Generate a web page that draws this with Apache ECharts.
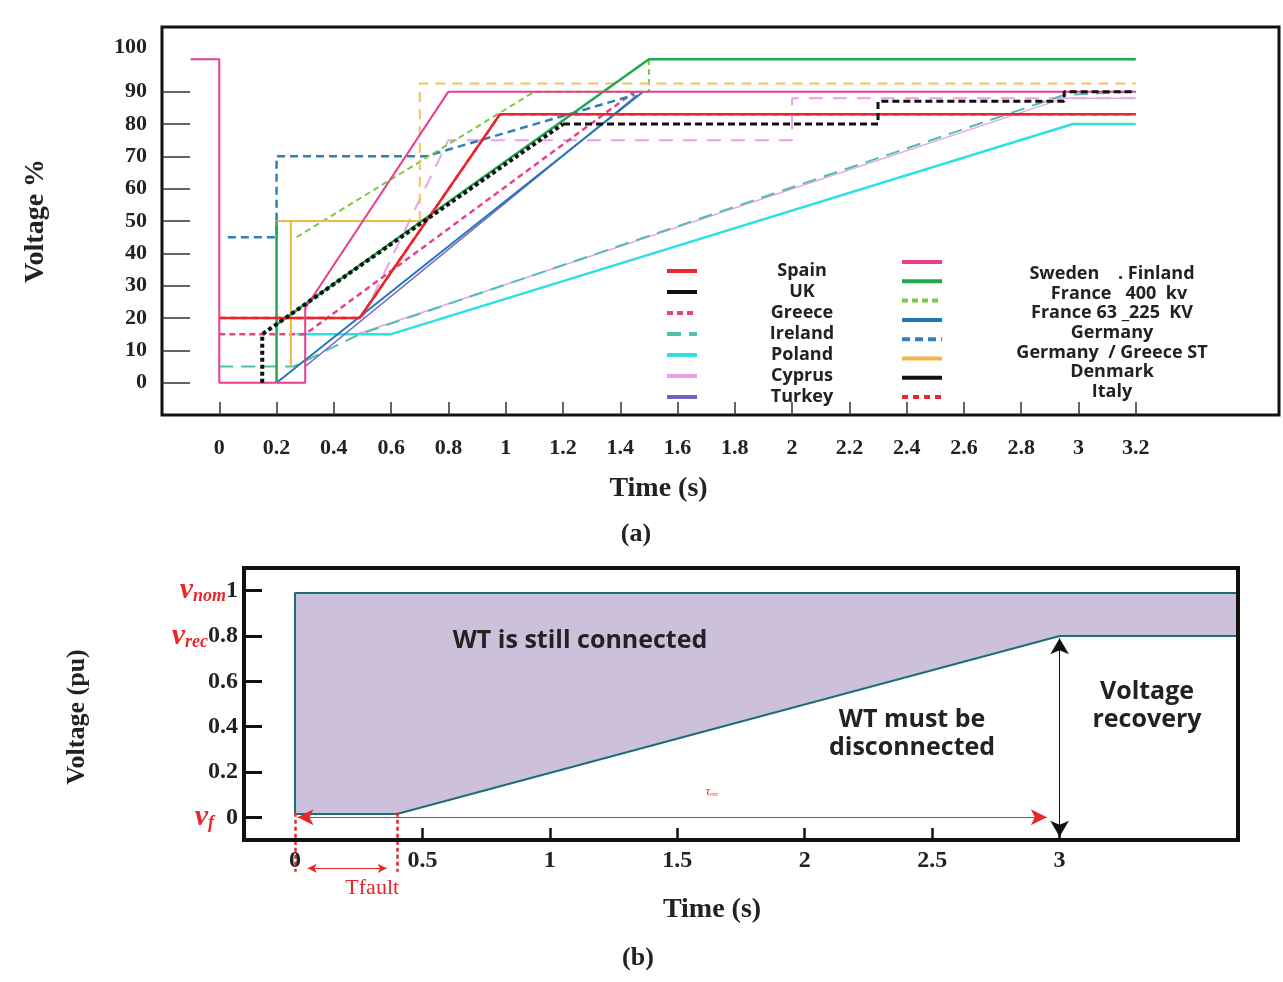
<!DOCTYPE html>
<html lang="en" style="height: 100%">
<head>
    <meta charset="utf-8">
    <title>FRT voltage profiles</title>
    <script src="https://cdn.jsdelivr.net/npm/echarts@6.0.0/dist/echarts.min.js"></script>
</head>
<body style="height: 100%; margin: 0; background: #fff">
<div id="container" style="width: 1283px; height: 982px"></div>
<script>
    // ---- (a) grid code curves, time in s, voltage in %
    const pinkT = [-0.1, 0, 0, 0.3, 0.3, 0.8, 3.2];
    const pinkV = [100, 100, 0, 0, 23, 90, 90];
    const spainT = [0, 0.49, 0.98, 3.2];
    const spainV = [20, 20, 83, 83];
    const italyT = [0, 0.49, 0.98, 3.2];
    const italyV = [20, 20, 83, 83];
    const swedenT = [0.2, 0.2, 0.2, 1.5, 3.2];
    const swedenV = [50, 0, 18, 100, 100];
    const france400T = [0.27, 1.1, 1.5, 1.5];
    const france400V = [45, 90, 90, 100];
    const france63T = [0.2, 1.48];
    const france63V = [0, 90];
    const germanyT = [0.03, 0.2, 0.2, 0.72, 1.45];
    const germanyV = [45, 45, 70, 70, 89];
    const stT = [0.25, 0.25, 0.2, 0.7];
    const stV = [5, 50, 50, 50];
    const stHighT = [0.7, 0.7, 3.2];
    const stHighV = [50, 92.5, 92.5];
    const ukT = [0.15, 0.15, 1.2];
    const ukV = [0, 15, 80];
    const denmarkT = [1.2, 2.3, 2.3, 2.95, 2.95, 3.2];
    const denmarkV = [80, 80, 87, 87, 90, 90];
    const greeceT = [0, 0.3, 1.45];
    const greeceV = [15, 15, 90];
    const turkeyT = [0.3, 1.46];
    const turkeyV = [5, 89];
    const irelandT = [0, 0.26, 0.49, 2.95, 3.2];
    const irelandV = [5, 5, 15, 89, 90];
    const polandT = [0.27, 0.6, 2.98, 3.2];
    const polandV = [15, 15, 80, 80];
    const cyprusT = [0.48, 2.95, 3.2];
    const cyprusV = [15, 88, 88];
    const cyprusStepT = [0.5, 0.8, 2.0, 2.0, 3.2];
    const cyprusStepV = [20, 75, 75, 88, 88];

    const timeTicksA = [0, 0.2, 0.4, 0.6, 0.8, 1, 1.2, 1.4, 1.6, 1.8, 2, 2.2, 2.4, 2.6, 2.8, 3, 3.2];
    const voltLabelsA = [0, 10, 20, 30, 40, 50, 60, 70, 80, 90, 100];
    const voltTicksA = [0, 10, 20, 30, 40, 50, 60, 70, 80, 90];

    const leftNames = ['Spain', 'UK', 'Greece', 'Ireland', 'Poland', 'Cyprus', 'Turkey'];
    const rightNames = ['Envelope', 'Sweden . Finland', 'France 400 kv', 'France 63_225 KV', 'Germany',
        'Germany / Greece ST', 'Denmark', 'Italy'];
    const rightLabels = ['Sweden    . Finland', '   France   400  kv', 'France 63 _225  KV', 'Germany',
        'Germany  / Greece ST', 'Denmark', 'Italy'];

    // ---- (b) generic FRT profile, voltage in pu
    const upperT = [0, 0, 3.7];
    const upperV = [0.015, 0.99, 0.99];
    const lowerT = [0, 0.4, 3.0, 3.7];
    const lowerV = [0.015, 0.015, 0.8, 0.8];
    const timeTicksB = [0.5, 1, 1.5, 2, 2.5, 3];
    const timeLabelsB = [0, 0.5, 1, 1.5, 2, 2.5, 3];
    const puTicks = [0, 0.2, 0.4, 0.6, 0.8, 1];

    // annotation arrows of (b): [t0, v0, t1, v1]
    const recArrow = [0.01, 0, 2.95, 0];
    const faultStart = [0, 0.02, 0, -0.24];
    const faultEnd = [0.4, 0.02, 0.4, -0.24];
    const faultArrow = [0.05, -0.225, 0.36, -0.225];
    const recoveryArrow = [3.0, 0.79, 3.0, -0.085];

    const RED = '#e8262b';
    const SERIF = 'Liberation Serif';
    const SANS = 'Open Sans';

    function zip(t, v) {
        return t.map(function (x, i) { return [x, v[i]]; });
    }

    function curve(name, t, v, color, width, type, z) {
        return {
            name: name,
            type: 'line',
            xAxisIndex: 0,
            yAxisIndex: 0,
            data: zip(t, v),
            showSymbol: false,
            symbol: 'none',
            animation: false,
            z: z || 2,
            lineStyle: {color: color, width: width, type: type || 'solid'},
            itemStyle: {color: color}
        };
    }

    function arrow(seg, symbol, size, lineStyle, label, color) {
        var start = {coord: [seg[0], seg[1]], symbol: symbol, symbolSize: size, lineStyle: lineStyle,
            label: label || {show: false}};
        var end = {coord: [seg[2], seg[3]], symbol: symbol, symbolSize: size};
        if (color) {
            start.itemStyle = {color: color};
            end.itemStyle = {color: color};
        }
        return [start, end];
    }

    var dom = document.getElementById('container');
    var myChart = echarts.init(dom, null, {renderer: 'canvas'});

    var option = {
        backgroundColor: '#fff',
        animation: false,
        title: [
            {
                text: rightLabels.join('\n'),
                left: 1112, top: 264, padding: 0, textAlign: 'center',
                textStyle: {fontFamily: SANS, fontWeight: 'bold', fontSize: 18, lineHeight: 19.7, color: '#222'}
            },
            {
                text: '(a)', left: 636, top: 521, padding: 0, textAlign: 'center',
                textStyle: {fontFamily: SERIF, fontWeight: 'bold', fontSize: 26, color: '#222'}
            },
            {
                text: '(b)', left: 638, top: 945, padding: 0, textAlign: 'center',
                textStyle: {fontFamily: SERIF, fontWeight: 'bold', fontSize: 26, color: '#222'}
            }
        ],
        legend: [
            {
                orient: 'vertical', left: 665, top: 262, padding: 0,
                itemWidth: 30, itemHeight: 10, itemGap: 3,
                selectedMode: false,
                data: leftNames.map(function (n) {
                    return n === 'UK' ? {name: n, lineStyle: {type: 'solid'}} : n;
                }),
                lineStyle: {width: 4},
                itemStyle: {opacity: 0},
                formatter: function (n) { return '{s|}{a|' + n + '}'; },
                textStyle: {
                    rich: {
                        s: {width: 45},
                        a: {width: 110, align: 'center', fontFamily: SANS, fontWeight: 'bold',
                            fontSize: 18, lineHeight: 20, color: '#222'}
                    }
                }
            },
            {
                orient: 'vertical', left: 900, top: 255, padding: 0,
                itemWidth: 40, itemHeight: 14, itemGap: 6.7,
                selectedMode: false,
                data: rightNames.map(function (n) {
                    return n === 'Denmark' ? {name: n, lineStyle: {type: 'solid'}} : n;
                }),
                lineStyle: {width: 4},
                itemStyle: {opacity: 0},
                formatter: function () { return ''; }
            }
        ],
        grid: [
            {left: 162, top: 27, width: 1117, height: 388, show: true, borderColor: '#111', borderWidth: 3},
            {left: 244, top: 568, width: 994, height: 272, show: true, borderColor: '#111', borderWidth: 4, z: 6},
            // same scale as grid 1, taller, for the annotation arrows below the axis
            {left: 244, top: 568, width: 994, height: 332.1, show: false}
        ],
        xAxis: [
            {
                type: 'value', gridIndex: 0, min: -0.2, max: 3.7,
                name: 'Time (s)', nameLocation: 'middle', nameGap: 60,
                nameTextStyle: {fontFamily: SERIF, fontWeight: 'bold', fontSize: 28, color: '#222', padding: [0, 124, 0, 0]},
                axisLine: {show: false, onZero: false},
                splitLine: {show: false},
                axisTick: {show: true, inside: true, length: 13, customValues: timeTicksA,
                    lineStyle: {color: '#333', width: 1.5}},
                axisLabel: {
                    customValues: timeTicksA, margin: 22,
                    fontFamily: SERIF, fontWeight: 'bold', fontSize: 22, color: '#222',
                    formatter: function (v) { return String(+v.toFixed(1)); }
                }
            },
            {
                type: 'value', gridIndex: 1, min: -0.2, max: 3.7, z: 6,
                name: 'Time (s)', nameLocation: 'middle', nameGap: 56,
                nameTextStyle: {fontFamily: SERIF, fontWeight: 'bold', fontSize: 28, color: '#222', padding: [0, 58, 0, 0]},
                axisLine: {show: false, onZero: false},
                splitLine: {show: false},
                axisTick: {show: true, inside: true, length: 12, customValues: timeTicksB,
                    lineStyle: {color: '#111', width: 2.5}},
                axisLabel: {
                    customValues: timeLabelsB, margin: 9,
                    fontFamily: SERIF, fontWeight: 'bold', fontSize: 24, color: '#222',
                    formatter: function (v) { return String(v); }
                }
            },
            {type: 'value', gridIndex: 2, min: -0.2, max: 3.7, show: false}
        ],
        yAxis: [
            {
                type: 'value', gridIndex: 0, min: -10, max: 110,
                name: 'Voltage %', nameLocation: 'middle', nameGap: 112, nameRotate: 90,
                nameTextStyle: {fontFamily: SERIF, fontWeight: 'bold', fontSize: 28, color: '#222'},
                axisLine: {show: false, onZero: false},
                splitLine: {show: false},
                axisTick: {show: true, inside: true, length: 28, customValues: voltTicksA,
                    lineStyle: {color: '#333', width: 1.5}},
                axisLabel: {
                    customValues: voltLabelsA, margin: 15,
                    fontFamily: SERIF, fontWeight: 'bold', fontSize: 22, color: '#222',
                    formatter: function (v) { return v === 100 ? '{up|100}' : String(v); },
                    rich: {
                        up: {padding: [0, 0, 24, 0], fontFamily: SERIF, fontWeight: 'bold', fontSize: 22, color: '#222'}
                    }
                }
            },
            {
                type: 'value', gridIndex: 1, min: -0.1, max: 1.1, z: 6,
                name: 'Voltage (pu)', nameLocation: 'middle', nameGap: 154, nameRotate: 90,
                nameTextStyle: {fontFamily: SERIF, fontWeight: 'bold', fontSize: 26, color: '#222', padding: [0, 26, 0, 0]},
                axisLine: {show: false, onZero: false},
                splitLine: {show: false},
                axisTick: {show: true, inside: true, length: 18, customValues: puTicks,
                    lineStyle: {color: '#111', width: 3}},
                axisLabel: {
                    customValues: puTicks, margin: 6,
                    fontFamily: SERIF, fontWeight: 'bold', fontSize: 24, color: '#222',
                    formatter: function (v) {
                        if (v === 1) return '{v|v}{s|nom}{n|1}';
                        if (v === 0.8) return '{v|v}{s|rec}{n|0.8}';
                        if (v === 0) return '{v|v}{s|f}  {n|0}';
                        return '{n|' + v + '}';
                    },
                    rich: {
                        v: {fontFamily: SERIF, fontStyle: 'italic', fontWeight: 'bold', fontSize: 30, color: RED, verticalAlign: 'top'},
                        s: {fontFamily: SERIF, fontStyle: 'italic', fontWeight: 'bold', fontSize: 18, color: RED, verticalAlign: 'bottom'},
                        n: {fontFamily: SERIF, fontWeight: 'bold', fontSize: 24, color: '#222'}
                    }
                }
            },
            {type: 'value', gridIndex: 2, min: -0.365, max: 1.1, show: false}
        ],
        graphic: [
            {type: 'text', x: 580, y: 641, z: 10,
                style: {text: 'WT is still connected', font: 'bold 25px "Open Sans"', fill: '#222', align: 'center', verticalAlign: 'middle'}},
            {type: 'text', x: 912, y: 734, z: 10,
                style: {text: 'WT must be\ndisconnected', font: 'bold 25px "Open Sans"', lineHeight: 28, fill: '#222', align: 'center', verticalAlign: 'middle'}},
            {type: 'text', x: 1147, y: 706, z: 10,
                style: {text: 'Voltage\nrecovery', font: 'bold 25px "Open Sans"', lineHeight: 28, fill: '#222', align: 'center', verticalAlign: 'middle'}}
        ],
        series: [
            curve('Italy', italyT, italyV, RED, 2.5, [6, 5], 1),
            curve('Cyprus', cyprusT, cyprusV, '#e8a2e8', 1.5),
            curve('Cyprus', cyprusStepT, cyprusStepV, '#e8a2e8', 2, [14, 10]),
            curve('Ireland', irelandT, irelandV, '#4fbfb2', 2, [14, 8]),
            curve('Poland', polandT, polandV, '#2ee0e0', 2.5),
            curve('Turkey', turkeyT, turkeyV, '#7462c2', 1.5),
            curve('France 63_225 KV', france63T, france63V, '#2277b8', 2),
            curve('Greece', greeceT, greeceV, '#e8418a', 2.5, [6, 4]),
            curve('Germany', germanyT, germanyV, '#2f80b6', 2.5, [8, 5]),
            curve('France 400 kv', france400T, france400V, '#7cc844', 2, [6, 4]),
            curve('Germany / Greece ST', stT, stV, '#f3b844', 2),
            curve('Germany / Greece ST', stHighT, stHighV, '#f3c060', 2, [10, 7]),
            curve('Sweden . Finland', swedenT, swedenV, '#1fa84f', 2.5),
            curve('Spain', spainT, spainV, RED, 2.5),
            curve('Envelope', pinkT, pinkV, '#e83e8c', 2),
            curve('UK', ukT, ukV, '#111', 4, [4, 3]),
            curve('Denmark', denmarkT, denmarkV, '#111', 3, [7, 4]),
            {
                name: 'Allowed region', type: 'line', xAxisIndex: 1, yAxisIndex: 1,
                data: zip(upperT, upperV), symbol: 'none', animation: false, z: 1,
                lineStyle: {color: '#1d6d78', width: 2},
                areaStyle: {color: '#cdc0db', opacity: 1, origin: 'start'}
            },
            {
                name: 'Limit curve', type: 'line', xAxisIndex: 1, yAxisIndex: 1,
                data: zip(lowerT, lowerV), symbol: 'none', animation: false, z: 1,
                lineStyle: {color: '#1d6d78', width: 2},
                areaStyle: {color: '#ffffff', opacity: 1, origin: 'start'}
            },
            {
                name: 'Annotations', type: 'line', xAxisIndex: 2, yAxisIndex: 2,
                data: [], clip: false, z: 7, animation: false,
                markLine: {
                    silent: true, animation: false,
                    label: {show: false},
                    data: [
                        arrow(recArrow, 'arrow', [12, 16], {color: RED, width: 1, type: 'solid'},
                            {show: true, position: 'middle', distance: 20, padding: [0, 0, 0, 80],
                                formatter: '{t|τ}{s|rec}',
                                rich: {t: {fontFamily: SERIF, fontStyle: 'italic', fontSize: 12, color: RED},
                                    s: {fontFamily: SERIF, fontStyle: 'italic', fontSize: 7, color: RED, verticalAlign: 'bottom'}}}),
                        arrow(faultStart, 'none', 0, {color: RED, width: 2.5, type: [4, 3]}),
                        arrow(faultEnd, 'none', 0, {color: RED, width: 2.5, type: [4, 3]}),
                        arrow(faultArrow, 'arrow', [7, 9], {color: RED, width: 1.2, type: 'solid'},
                            {show: true, position: 'insideMiddleBottom', distance: 9, padding: [0, 0, 0, 50],
                                formatter: 'Tfault', fontFamily: SERIF, fontSize: 22, color: RED}),
                        arrow(recoveryArrow, 'arrow', [14, 16], {color: '#111', width: 1, type: 'solid'}, null, '#111')
                    ]
                }
            }
        ]
    };

    myChart.setOption(option);
    window.addEventListener('resize', myChart.resize);
</script>
</body>
</html>
